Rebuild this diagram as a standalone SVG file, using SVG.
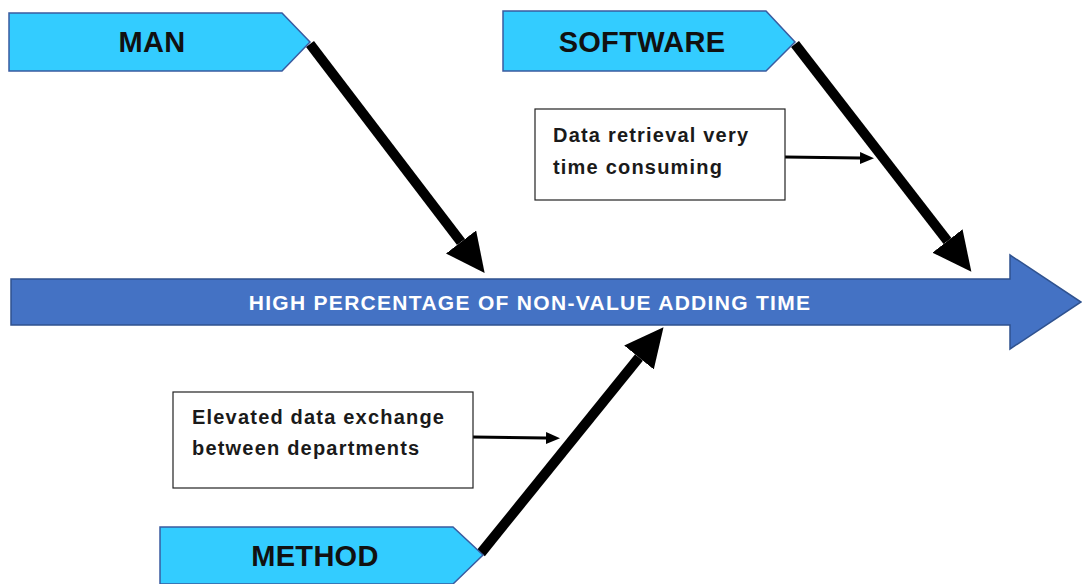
<svg xmlns="http://www.w3.org/2000/svg" width="1082" height="584" viewBox="0 0 1082 584">
  <defs>
    <style>
      .cat { fill: #33CCFF; stroke: #3A5BA0; stroke-width: 1.5; }
      .cat-label { font-family: "Liberation Sans", Arial, sans-serif; font-weight: bold; font-size: 29px; letter-spacing: 0.3px; fill: #111; text-anchor: middle; dominant-baseline: central; }
      .spine { fill: #4472C4; stroke: #2F528F; stroke-width: 1.5; }
      .spine-label { font-family: "Liberation Sans", Arial, sans-serif; font-weight: bold; font-size: 21px; letter-spacing: 1.3px; fill: #FFFFFF; text-anchor: middle; dominant-baseline: central; }
      .note { fill: #FFFFFF; stroke: #222; stroke-width: 1.2; }
      .note-label { font-family: "Liberation Sans", Arial, sans-serif; font-weight: bold; font-size: 20px; letter-spacing: 1.2px; fill: #1a1a1a; }
      .bone { stroke: #000; stroke-width: 10; fill: none; }
      .sub { stroke: #000; stroke-width: 3; fill: none; }
    </style>
    <marker id="bigHead" markerUnits="userSpaceOnUse" markerWidth="40" markerHeight="38" refX="0" refY="19" orient="auto">
      <path d="M0,0 L39,19 L0,38 z" fill="#000"/>
    </marker>
    <marker id="smallHead" markerUnits="userSpaceOnUse" markerWidth="14" markerHeight="12" refX="0" refY="6" orient="auto">
      <path d="M0,0 L14,6 L0,12 z" fill="#000"/>
    </marker>
  </defs>

  <!-- effect spine -->
  <g id="effect">
    <path class="spine" d="M11,279 L1010,279 L1010,255 L1081,302 L1010,349 L1010,325 L11,325 z"/>
    <text class="spine-label" x="530" y="302">HIGH PERCENTAGE OF NON-VALUE ADDING TIME</text>
  </g>

  <!-- bones and sub-cause arrows -->
  <g id="connectors">
    <line class="bone" x1="310" y1="44" x2="461" y2="242" marker-end="url(#bigHead)"/>
    <line class="bone" x1="795" y1="44" x2="947.5" y2="241" marker-end="url(#bigHead)"/>
    <line class="bone" x1="481" y1="553" x2="639" y2="357.5" marker-end="url(#bigHead)"/>
    <line class="sub" x1="785" y1="157" x2="860" y2="158" marker-end="url(#smallHead)"/>
    <line class="sub" x1="473" y1="437" x2="546" y2="438" marker-end="url(#smallHead)"/>
  </g>

  <!-- cause categories -->
  <g id="man">
    <path class="cat" d="M9,13 L282,13 L310,42 L282,71 L9,71 z"/>
    <text class="cat-label" x="152" y="42">MAN</text>
  </g>
  <g id="software">
    <path class="cat" d="M503,11 L766,11 L795,42 L766,71 L503,71 z"/>
    <text class="cat-label" x="642" y="42">SOFTWARE</text>
  </g>
  <g id="method">
    <path class="cat" d="M160,527 L453,527 L483,555 L453,584 L160,584 z"/>
    <text class="cat-label" x="315" y="556">METHOD</text>
  </g>

  <!-- sub-causes -->
  <g id="data-retrieval">
    <rect class="note" x="535" y="109" width="250" height="91"/>
    <text class="note-label" x="553" y="142">Data retrieval very</text>
    <text class="note-label" x="553" y="174">time consuming</text>
  </g>
  <g id="data-exchange">
    <rect class="note" x="173" y="392" width="300" height="96"/>
    <text class="note-label" x="192" y="424">Elevated data exchange</text>
    <text class="note-label" x="192" y="455">between departments</text>
  </g>
</svg>
